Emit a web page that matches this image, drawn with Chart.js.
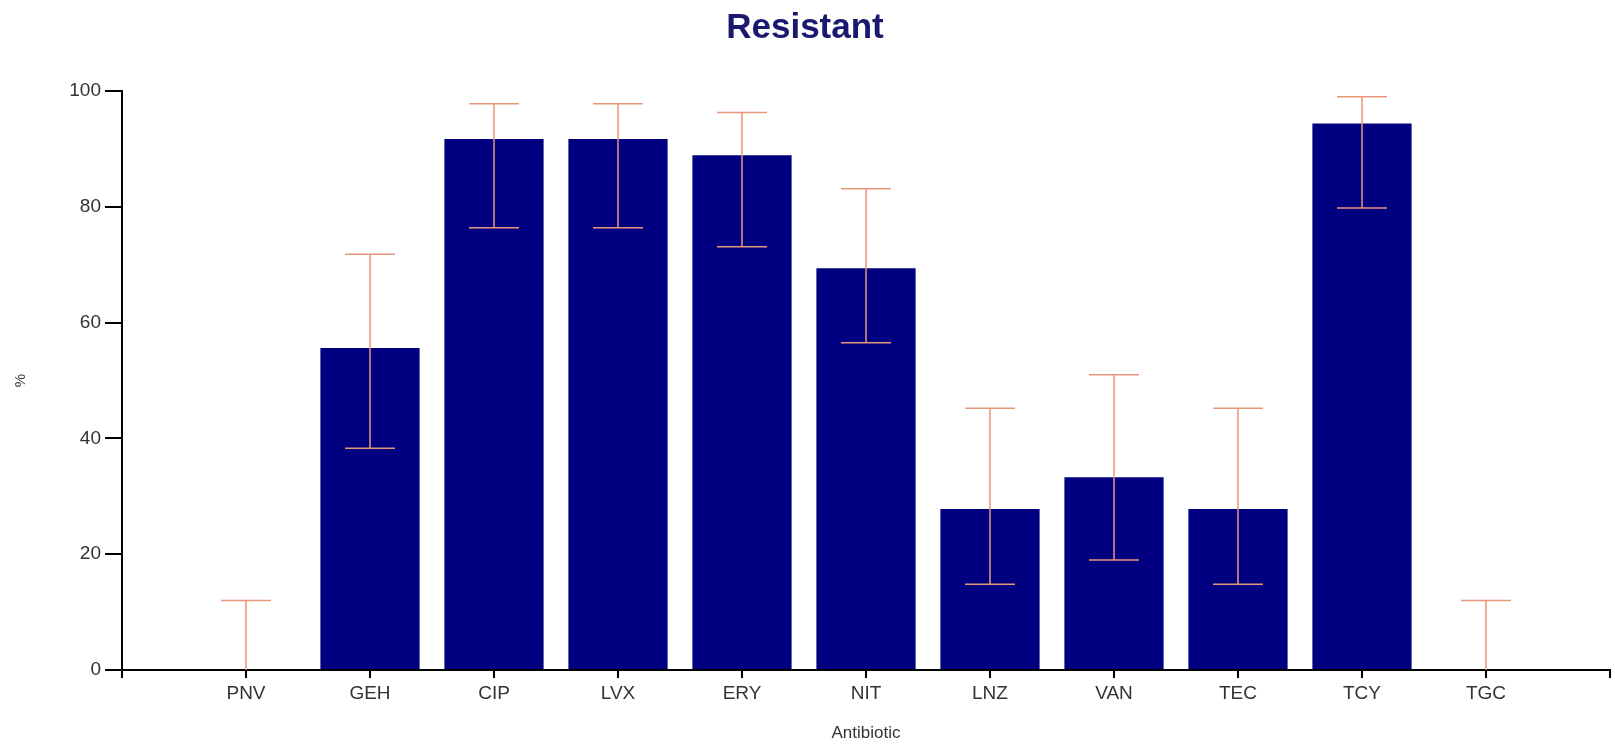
<!DOCTYPE html>
<html>
<head>
<meta charset="utf-8">
<script src="https://cdn.jsdelivr.net/npm/chart.js@4/dist/chart.umd.min.js"></script>
<style>
  html, body { margin: 0; padding: 0; background: #fff; }
  #wrap { width: 1615px; height: 745px; }
</style>
</head>
<body>
<div id="wrap"><canvas id="grafico_resistencia"></canvas></div>
<script>
// antibiotics and % resistant, with 95% CI
var antibioticos = ['PNV', 'GEH', 'CIP', 'LVX', 'ERY', 'NIT', 'LNZ', 'VAN', 'TEC', 'TCY', 'TGC'];
var resistente = [0, 55.6, 91.7, 91.7, 88.9, 69.4, 27.8, 33.3, 27.8, 94.4, 0];
var icInferior = [0, 38.3, 76.4, 76.4, 73.1, 56.5, 14.8, 19.0, 14.8, 79.8, 0];
var icSuperior = [12.0, 71.8, 97.8, 97.8, 96.3, 83.1, 45.2, 51.0, 45.2, 99.0, 12.0];
var ticksY = [0, 20, 40, 60, 80, 100];

// empty slot at each end, like the original axis
var rotulos = [''].concat(antibioticos, ['']);
var valores = [null].concat(resistente, [null]);

var barrasErro = {
  id: 'barrasErro',
  afterDatasetsDraw: function(chart) {
    var x = chart.scales.x, y = chart.scales.y, ctx = chart.ctx;
    ctx.save();
    ctx.strokeStyle = '#e8967a';
    ctx.lineWidth = 1.5;
    for (var i = 0; i < antibioticos.length; i++) {
      var px = x.getPixelForValue(i + 1);
      var lo = y.getPixelForValue(icInferior[i]);
      var hi = y.getPixelForValue(icSuperior[i]);
      ctx.beginPath();
      ctx.moveTo(px, lo); ctx.lineTo(px, hi);
      ctx.moveTo(px - 25, hi); ctx.lineTo(px + 25, hi);
      if (icInferior[i] > 0) { ctx.moveTo(px - 25, lo); ctx.lineTo(px + 25, lo); }
      ctx.stroke();
    }
    ctx.restore();
  }
};

new Chart(document.getElementById('grafico_resistencia'), {
  type: 'bar',
  data: {
    labels: rotulos,
    datasets: [{
      label: 'Resistant',
      data: valores,
      backgroundColor: '#000080',
      barPercentage: 0.8,
      categoryPercentage: 1
    }]
  },
  options: {
    responsive: true,
    maintainAspectRatio: false,
    animation: false,
    layout: { padding: { left: 0, right: 5, top: 0, bottom: 0 } },
    plugins: {
      legend: { display: false },
      tooltip: { enabled: false },
      title: {
        display: true,
        text: 'Resistant',
        color: '#191970',
        font: { family: 'Liberation Sans', size: 35, weight: 'bold' },
        padding: { top: 7, bottom: 42 }
      }
    },
    scales: {
      x: {
        offset: false,
        border: { color: '#000', width: 2 },
        grid: { offset: false, drawOnChartArea: false, color: '#000', tickLength: 8, lineWidth: 2 },
        ticks: {
          autoSkip: false, maxRotation: 0, padding: 4,
          color: '#333', font: { family: 'Liberation Sans', size: 19 }
        },
        title: {
          display: true, text: 'Antibiotic', color: '#333',
          font: { family: 'Liberation Sans', size: 17 },
          padding: { top: 4, bottom: 1 }
        },
        afterFit: function(s) { s.height = 75; }
      },
      y: {
        min: 0, max: 100,
        afterBuildTicks: function(s) { s.ticks = ticksY.map(function(v) { return { value: v }; }); },
        border: { color: '#000', width: 2 },
        grid: { drawOnChartArea: false, color: '#000', tickLength: 17, lineWidth: 2 },
        ticks: {
          padding: 4, color: '#333',
          font: { family: 'Liberation Sans', size: 19 }
        },
        title: {
          display: true, text: '%', color: '#333',
          font: { family: 'Liberation Sans', size: 15 },
          padding: { top: 12, bottom: 0 }
        },
        afterFit: function(s) { s.width = 122; }
      }
    }
  },
  plugins: [barrasErro]
});
</script>
</body>
</html>
